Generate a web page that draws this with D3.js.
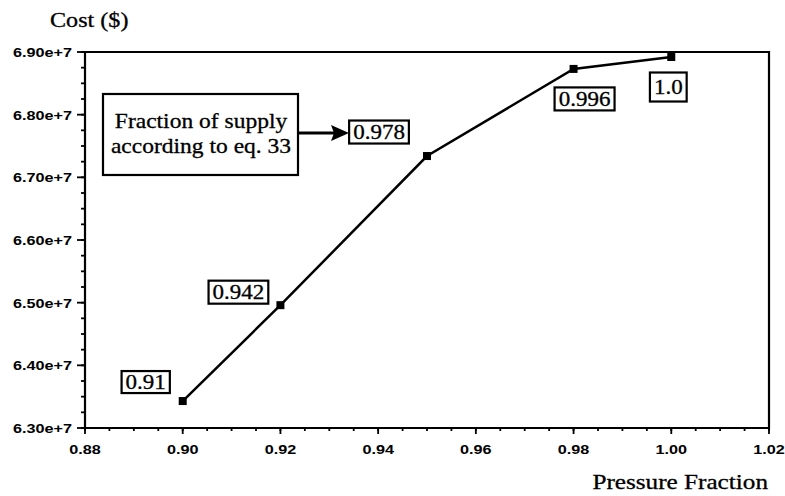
<!DOCTYPE html>
<html><head><meta charset="utf-8">
<script src="https://cdn.jsdelivr.net/npm/d3@7"></script>
<style>body{margin:0;background:#fff}svg{display:block}</style>
</head><body><svg id="c" width="785" height="496"></svg>
<script>
// ---- data ----
const pressure = [0.90, 0.92, 0.95, 0.98, 1.00];
const cost = [6.343e7, 6.496e7, 6.734e7, 6.873e7, 6.892e7];
const supplyLabels = ["0.91", "0.942", "0.978", "0.996", "1.0"];
const xTicks = [0.88, 0.90, 0.92, 0.94, 0.96, 0.98, 1.00, 1.02];
const yTicks = [6.3e7, 6.4e7, 6.5e7, 6.6e7, 6.7e7, 6.8e7, 6.9e7];
const yTickLabels = ["6.30e+7", "6.40e+7", "6.50e+7", "6.60e+7", "6.70e+7", "6.80e+7", "6.90e+7"];
const xTickLabels = ["0.88", "0.90", "0.92", "0.94", "0.96", "0.98", "1.00", "1.02"];
const noteLines = ["Fraction of supply", "according to eq. 33"];
// ---- layout (label box offsets from points and box heights, px) ----
const labelOffsets = [[-37, -19], [-42, -13], [-48, -24], [11, 30], [-3, 30]];
const labelBoxH = [22, 23, 23, 23, 29];

const svg = d3.select("#c");
const L = 85, R = 769, T = 52, B = 428;
const x = d3.scaleLinear().domain([0.88, 1.02]).range([L, R]);
const y = d3.scaleLinear().domain([6.3e7, 6.9e7]).range([B, T]);
const serif = "'Liberation Serif','Times New Roman',serif";
const sans = "'Liberation Sans',Arial,sans-serif";

function txt(g, s, px, py, opts) {
  return g.append("text")
    .attr("transform", `translate(${px},${py}) scale(${opts.sx || 1.2},1)`)
    .attr("text-anchor", opts.anchor || "start")
    .attr("font-family", opts.family)
    .attr("font-size", opts.size)
    .attr("font-weight", opts.weight || "normal")
    .attr("fill", "#000")
    .attr("stroke", opts.stroke ? "#000" : "none")
    .attr("stroke-width", opts.stroke || 0)
    .text(s);
}

// frame
svg.append("path").attr("d", `M${L},${B}V${T}H${R}V${B}Z`)
  .attr("fill", "none").attr("stroke", "#000").attr("stroke-width", 2.2);

// y axis ticks
const yMinor = d3.range(6.3e7, 6.9e7 + 1, 0.025e7);
svg.selectAll(".ym").data(yMinor).join("line")
  .attr("x1", L - 4).attr("x2", L).attr("y1", d => y(d)).attr("y2", d => y(d))
  .attr("stroke", "#000").attr("stroke-width", 1.8);
svg.selectAll(".yM").data(yTicks).join("line")
  .attr("x1", L - 8).attr("x2", L).attr("y1", d => y(d)).attr("y2", d => y(d))
  .attr("stroke", "#000").attr("stroke-width", 1.8);
yTicks.forEach((v, i) => {
  txt(svg, yTickLabels[i], 72, y(v) + 5, {family: sans, size: 13.5, weight: "bold", anchor: "end", sx: 1.2});
});

// x axis ticks
const xMinor = d3.range(0.88, 1.0201, 0.005);
svg.selectAll(".xm").data(xMinor).join("line")
  .attr("x1", d => x(d)).attr("x2", d => x(d)).attr("y1", B).attr("y2", B + 3)
  .attr("stroke", "#000").attr("stroke-width", 1.8);
svg.selectAll(".xM").data(xTicks).join("line")
  .attr("x1", d => x(d)).attr("x2", d => x(d)).attr("y1", B).attr("y2", B + 6)
  .attr("stroke", "#000").attr("stroke-width", 1.8);
xTicks.forEach((v, i) => {
  txt(svg, xTickLabels[i], x(v), 454, {family: sans, size: 13.5, weight: "bold", anchor: "middle", sx: 1.2});
});

// axis titles
txt(svg, "Cost ($)", 50, 27, {family: serif, size: 21, sx: 1.15, stroke: 0.3});
txt(svg, "Pressure Fraction", 768, 489, {family: serif, size: 21, anchor: "end", sx: 1.2, stroke: 0.3});

// line + markers
const pts = pressure.map((p, i) => [p, cost[i]]);
svg.append("path").datum(pts)
  .attr("d", d3.line().x(d => x(d[0])).y(d => y(d[1])))
  .attr("fill", "none").attr("stroke", "#000").attr("stroke-width", 2.5);
svg.selectAll(".mk").data(pts).join("rect")
  .attr("x", d => x(d[0]) - 4).attr("y", d => y(d[1]) - 4)
  .attr("width", 8).attr("height", 8).attr("fill", "#000");

// label boxes
pts.forEach((d, i) => {
  const cx = x(d[0]) + labelOffsets[i][0], cy = y(d[1]) + labelOffsets[i][1];
  const h = labelBoxH[i];
  const g = svg.append("g");
  const t = txt(g, supplyLabels[i], cx, cy + 7, {family: serif, size: 20, anchor: "middle", sx: 1.15, stroke: 0.3});
  const w = t.node().getBBox().width * 1.15 + 8;
  g.insert("rect", "text").attr("x", cx - w / 2).attr("y", cy - h / 2)
    .attr("width", w).attr("height", h)
    .attr("fill", "#fff").attr("stroke", "#000").attr("stroke-width", 2.2);
});

// note box
svg.append("rect").attr("x", 103).attr("y", 94).attr("width", 195).attr("height", 81)
  .attr("fill", "#fff").attr("stroke", "#000").attr("stroke-width", 2.2);
txt(svg, noteLines[0], 201, 128, {family: serif, size: 21, anchor: "middle", sx: 1.12, stroke: 0.3});
txt(svg, noteLines[1], 201, 153, {family: serif, size: 21, anchor: "middle", sx: 1.12, stroke: 0.3});

// arrow
svg.append("line").attr("x1", 298).attr("y1", 133).attr("x2", 336).attr("y2", 133)
  .attr("stroke", "#000").attr("stroke-width", 2.8);
svg.append("path").attr("d", "M349,133L331,125L334,133L331,141Z").attr("fill", "#000");
</script></body></html>
